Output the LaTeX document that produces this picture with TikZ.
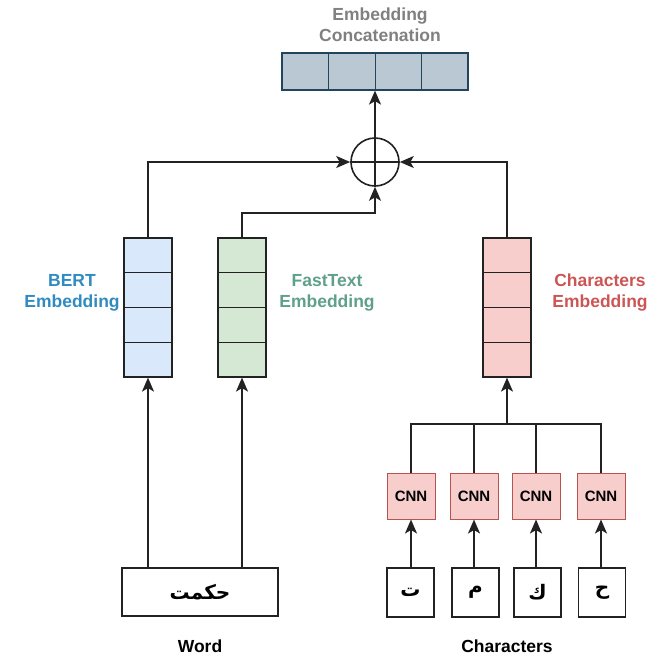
\documentclass[tikz,border=0pt]{standalone}
\usepackage{fontspec}
\setmainfont{Liberation Sans}
\newfontfamily\arabicfont[Script=Arabic]{DejaVu Sans}
\TeXXeTstate=1
\usetikzlibrary{arrows.meta,calc}

\definecolor{concatfill}{HTML}{BAC8D3}
\definecolor{concatline}{HTML}{23445D}
\definecolor{bertfill}{HTML}{DAE8FC}
\definecolor{ftfill}{HTML}{D5E8D4}
\definecolor{charfill}{HTML}{F8CECC}
\definecolor{cnnline}{HTML}{B85450}
\definecolor{bertcol}{HTML}{2F8BC0}
\definecolor{ftcol}{HTML}{5FA08A}
\definecolor{charcol}{HTML}{CC5555}
\definecolor{titlecol}{HTML}{808080}
\definecolor{edge}{HTML}{222222}

\tikzset{
  link/.style={line width=1.6pt, draw=edge},
  arrowlink/.style={link, -{Stealth[length=14pt,width=12pt,inset=3.5pt]}},
  vecbox/.style={draw=edge, line width=1.2pt, minimum width=48pt, minimum height=139pt, inner sep=0pt},
  cnnbox/.style={draw=cnnline, line width=1pt, fill=charfill, minimum width=48pt, minimum height=46pt, inner sep=0pt, font=\fontsize{15}{18}\selectfont\bfseries},
  letterbox/.style={draw=edge, line width=1.1pt, fill=white, minimum width=47pt, minimum height=49pt, inner sep=0pt, font=\arabicfont\fontsize{20}{24}\selectfont\bfseries},
  label/.style={font=\fontsize{17.5}{21}\selectfont\bfseries, align=center, inner sep=0pt},
}

\begin{document}
\begin{tikzpicture}[x=1pt, y=-1pt]
\useasboundingbox (0,0) rectangle (662,657);

% concatenated embedding vector
\node[draw=concatline, line width=1.2pt, fill=concatfill, minimum width=186pt, minimum height=37pt, inner sep=0pt] (concat) at (375,71.5) {};
\foreach \f in {0.25,0.5,0.75}
  \draw[draw=concatline, line width=1pt] ($(concat.north west)!\f!(concat.north east)$) -- ($(concat.south west)!\f!(concat.south east)$);
\node[label, text=titlecol] (title) at (380,25) {Embedding\\Concatenation};

% summation
\node[circle, draw=edge, line width=1.6pt, minimum size=48pt, inner sep=0pt] (sum) at (375,162) {};
\draw[link] (sum.north) -- (sum.south) (sum.west) -- (sum.east);
\draw[arrowlink] (sum.north) -- (concat.south);

% embedding vectors
\node[vecbox, fill=bertfill] (bert) at (148,307.5) {};
\node[vecbox, fill=ftfill] (ft) at (242,307.5) {};
\node[vecbox, fill=charfill] (chemb) at (507,307.5) {};
\foreach \v in {bert,ft,chemb}
  \foreach \f in {0.25,0.5,0.75}
    \draw[draw=edge, line width=1.2pt] ($(\v.north west)!\f!(\v.south west)$) -- ($(\v.north east)!\f!(\v.south east)$);

\node[label, text=bertcol] (bertlab) at (72,292.5) {BERT\\Embedding};
\node[label, text=ftcol] (ftlab) at (327,292.5) {FastText\\Embedding};
\node[label, text=charcol] (charlab) at (600,292.5) {Characters\\Embedding};

% connections into the sum
\coordinate (ftbend) at (375,213);
\draw[arrowlink] (bert.north) |- (sum.west);
\draw[arrowlink] (chemb.north) |- (sum.east);
\draw[arrowlink] (ft.north) |- (ftbend) -- (sum.south);

% word input
\node[draw=edge, line width=1.1pt, minimum width=156pt, minimum height=48pt, inner sep=0pt, font=\arabicfont\fontsize{20}{24}\selectfont\bfseries] (word) at (200,592) {\beginR حكمت\endR};
\node[label, text=black] (wordlab) at (200,646) {Word};
\draw[arrowlink] (word.north -| bert.south) -- (bert.south);
\draw[arrowlink] (word.north -| ft.south) -- (ft.south);

% character CNNs
\node[cnnbox] (cnn1) at (411,496) {CNN};
\node[cnnbox] (cnn2) at (474,496) {CNN};
\node[cnnbox] (cnn3) at (536,496) {CNN};
\node[cnnbox] (cnn4) at (601,496) {CNN};

\node[letterbox] (ch1) at (410.5,592.5) {ت};
\node[letterbox] (ch2) at (475.5,592.5) {م};
\node[letterbox] (ch3) at (537.5,592.5) {ك};
\node[letterbox] (ch4) at (602,592.5) {ح};
\node[label, text=black] (charslab) at (507,646) {Characters};

\foreach \i in {1,2,3,4}
  \draw[arrowlink] (ch\i.north -| cnn\i.south) -- (cnn\i.south);

\coordinate (junction) at (507,424);
\draw[link] (cnn1.north) |- (cnn4.north |- junction) -- (cnn4.north);
\draw[link] (cnn2.north) -- (cnn2.north |- junction);
\draw[link] (cnn3.north) -- (cnn3.north |- junction);
\draw[arrowlink] (junction) -- (chemb.south);
\end{tikzpicture}
\end{document}
